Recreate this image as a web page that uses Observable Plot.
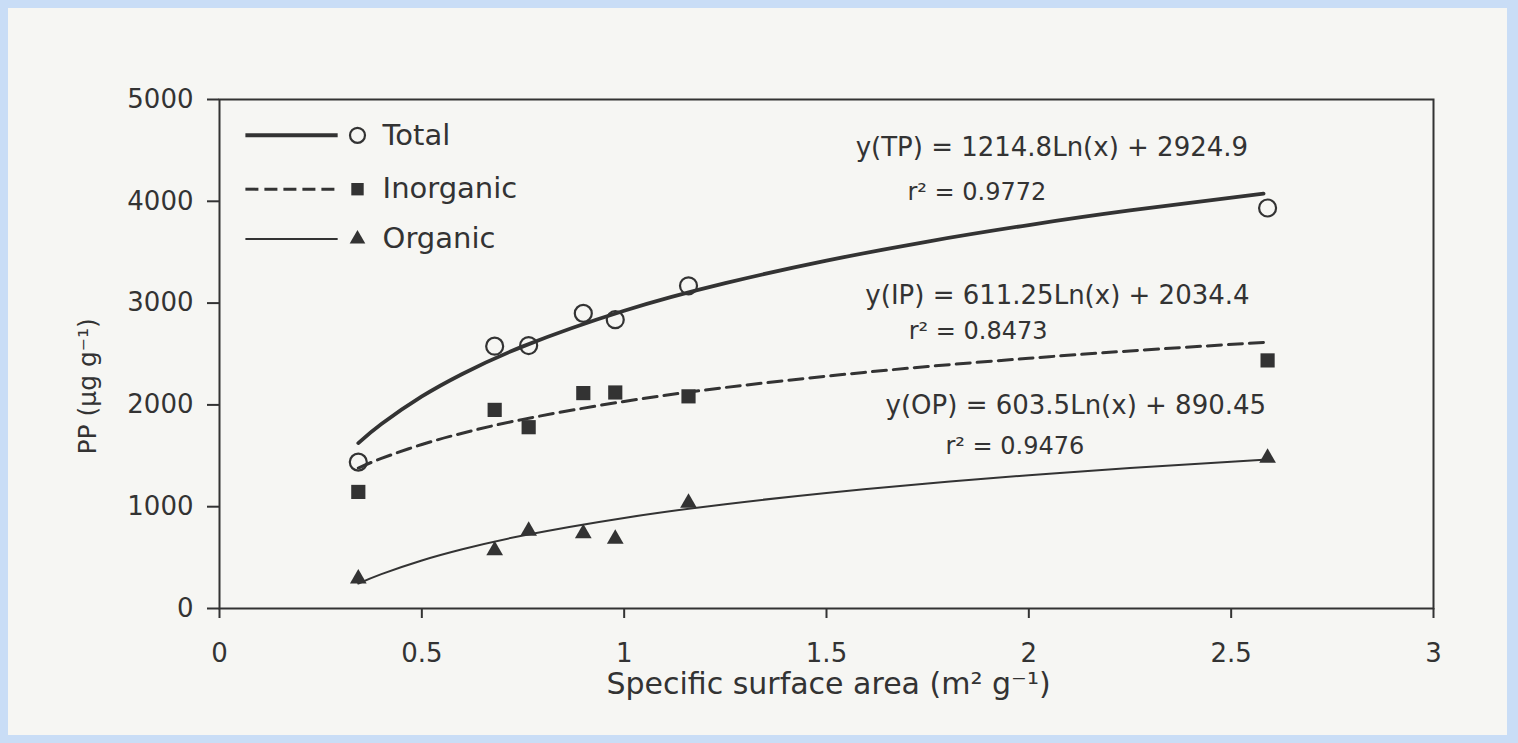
<!DOCTYPE html>
<html><head><meta charset="utf-8">
<script src="https://cdn.jsdelivr.net/npm/d3@7"></script>
<script src="https://cdn.jsdelivr.net/npm/@observablehq/plot@0.6"></script>
<style>
html,body{margin:0;padding:0;background:#c9ddf6;width:1518px;height:743px;overflow:hidden;}
#paper{position:absolute;left:8px;top:8px;width:1499px;height:727px;background:#f6f6f3;}
#chart{position:absolute;left:0;top:0;}
</style></head>
<body><div id="paper"></div><div id="chart"></div>
<script>
// Measured samples (specific surface area, m2 g-1) and particulate P (µg g-1)
const surfaceArea = [0.343, 0.680, 0.764, 0.899, 0.978, 1.159, 2.590];
const totalP      = [1438, 2577, 2583, 2899, 2837, 3170, 3934];
const inorganicP  = [1145, 1951, 1781, 2116, 2122, 2084, 2437];
const organicP    = [294, 570, 762, 737, 684, 1037, 1479];

// Trend curves
const curveX        = [0.343, 0.4, 0.5, 0.6, 0.75, 1.0, 1.25, 1.5, 1.75, 2.0, 2.25, 2.58];
const curveTotal    = [1625, 1812, 2083, 2304, 2575, 2925, 3196, 3417, 3605, 3767, 3910, 4076];
const curveInorg    = [1380, 1474, 1611, 1722, 1858, 2034, 2171, 2282, 2377, 2458, 2530, 2614];
const curveOrganic  = [245, 338, 472, 582, 717, 890, 1025, 1135, 1228, 1309, 1380, 1462];

// Tick values
const xTicks = [0, 0.5, 1, 1.5, 2, 2.5, 3];
const yTicks = [0, 1000, 2000, 3000, 4000, 5000];

// Axis titles
const xTitle = "Specific surface area (m\u00B2 g\u207B\u00B9)";
const yTitle = "PP (\u00B5g g\u207B\u00B9)";

// Annotations (equations)
const eqText = ["y(TP) = 1214.8Ln(x) + 2924.9", "y(IP) = 611.25Ln(x) + 2034.4", "y(OP) = 603.5Ln(x) + 890.45"];
const eqX = [1.572, 1.596, 1.646];
const eqY = [4530, 3072, 1996];
const r2Text = ["r\u00B2 = 0.9772", "r\u00B2 = 0.8473", "r\u00B2 = 0.9476"];
const r2X = [1.700, 1.703, 1.794];
const r2Y = [4090, 2720, 1595];

// Legend
const legendLabels = ["Total", "Inorganic", "Organic"];
const legendY = [4648, 4119, 3630];
const legendX = [0.064, 0.292, 0.341, 0.403]; // line start, line end, symbol, label

const ink = "#333";
const pts = (ys) => surfaceArea.map((x, i) => ({x, y: ys[i]}));
const crv = (ys) => curveX.map((x, i) => ({x, y: ys[i]}));
const eqs = eqText.map((t, i) => ({t, x: eqX[i], y: eqY[i]}));
const r2s = r2Text.map((t, i) => ({t, x: r2X[i], y: r2Y[i]}));
const leg = legendLabels.map((t, i) => ({t, y: legendY[i]}));

const chart = Plot.plot({
  width: 1518, height: 743,
  marginLeft: 219, marginRight: 85, marginTop: 99, marginBottom: 135,
  style: {fontFamily: "DejaVu Sans", fontSize: "26px", color: ink, background: "transparent"},
  x: {domain: [0, 3]},
  y: {domain: [0, 5000]},
  marks: [
    Plot.frame({stroke: ink, strokeWidth: 2}),
    Plot.axisX({ticks: xTicks, tickSize: 10, tickPadding: 25, strokeWidth: 2, tickFormat: d => String(d), label: null, fontSize: 26}),
    Plot.axisY({ticks: yTicks, tickSize: 12, tickPadding: 14, strokeWidth: 2, tickFormat: d => String(d), label: null, fontSize: 26}),
    Plot.text([yTitle], {x: -0.324, y: 2182, rotate: -90, fontSize: 25, fill: ink}),
    Plot.text([xTitle], {x: 1.505, y: -744, fontSize: 30, fill: ink}),
    // trend curves
    Plot.line(crv(curveTotal), {x: "x", y: "y", stroke: ink, strokeWidth: 3.8, curve: "natural"}),
    Plot.line(crv(curveInorg), {x: "x", y: "y", stroke: ink, strokeWidth: 3, strokeDasharray: "14,7", curve: "natural"}),
    Plot.line(crv(curveOrganic), {x: "x", y: "y", stroke: ink, strokeWidth: 2, curve: "natural"}),
    // observations
    Plot.dot(pts(totalP), {x: "x", y: "y", symbol: "circle", r: 8.5, stroke: ink, strokeWidth: 2.2, fill: "none"}),
    Plot.dot(pts(inorganicP), {x: "x", y: "y", symbol: "square", r: 8, fill: ink}),
    Plot.dot(pts(organicP), {x: "x", y: "y", symbol: "triangle", r: 6.2, fill: ink}),
    // equations
    Plot.text(eqs, {x: "x", y: "y", text: "t", textAnchor: "start", fontSize: 26, fill: ink}),
    Plot.text(r2s, {x: "x", y: "y", text: "t", textAnchor: "start", fontSize: 24, fill: ink}),
    // legend
    Plot.link(leg.slice(0, 1), {x1: () => legendX[0], x2: () => legendX[1], y1: "y", y2: "y", stroke: ink, strokeWidth: 4}),
    Plot.link(leg.slice(1, 2), {x1: () => legendX[0], x2: () => legendX[1], y1: "y", y2: "y", stroke: ink, strokeWidth: 3, strokeDasharray: "13,6"}),
    Plot.link(leg.slice(2, 3), {x1: () => legendX[0], x2: () => legendX[1], y1: "y", y2: "y", stroke: ink, strokeWidth: 2}),
    Plot.dot(leg.slice(0, 1), {x: () => legendX[2], y: "y", symbol: "circle", r: 7.5, stroke: ink, strokeWidth: 2.2, fill: "none"}),
    Plot.dot(leg.slice(1, 2), {x: () => legendX[2], y: "y", symbol: "square", r: 7, fill: ink}),
    Plot.dot(leg.slice(2, 3), {x: () => legendX[2], y: "y", symbol: "triangle", r: 5.8, fill: ink}),
    Plot.text(leg, {x: () => legendX[3], y: "y", text: "t", textAnchor: "start", fontSize: 29, fill: ink})
  ]
});
document.getElementById("chart").appendChild(chart);
</script>
</body></html>
